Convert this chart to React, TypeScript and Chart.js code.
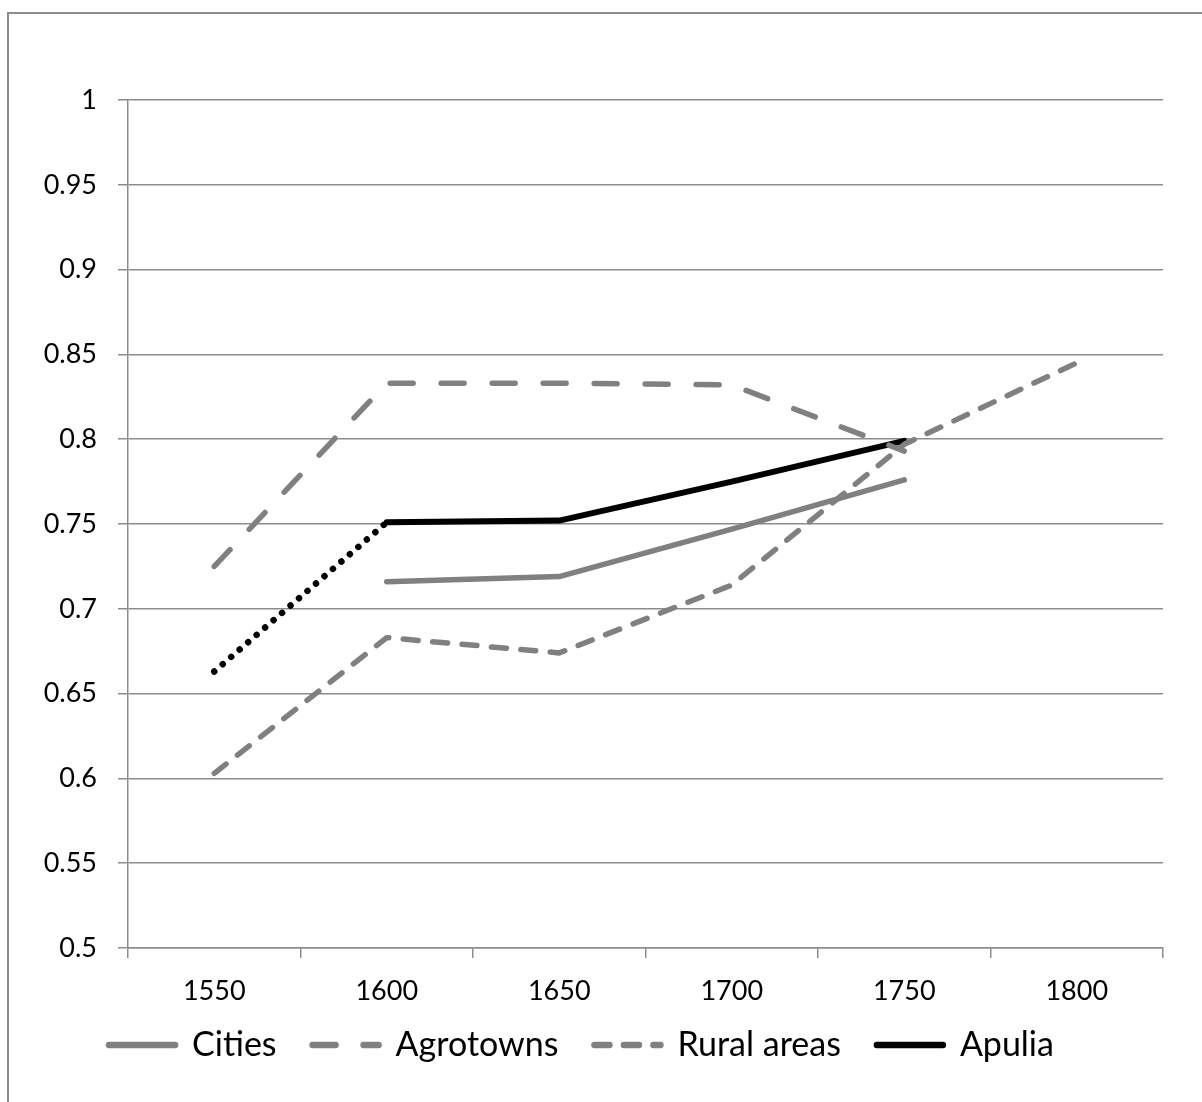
import { useEffect, useRef } from 'react';
import { Chart, registerables } from 'chart.js';

Chart.register(...registerables);

const categories = ['1550', '1600', '1650', '1700', '1750', '1800'];
const cities = [null, 0.716, 0.719, 0.747, 0.776, null];
const agrotowns = [0.725, 0.833, 0.833, 0.832, 0.793, null];
const ruralAreas = [0.603, 0.683, 0.674, 0.714, 0.797, 0.845];
const apulia = [0.663, 0.751, 0.752, 0.775, 0.799, null];
const seriesNames = ['Cities', 'Agrotowns', 'Rural areas', 'Apulia'];
const yMin = 0.5;
const yMax = 1;
const yStep = 0.05;

const GRID = '#8c8c8c';
const GRAY = '#808080';
const FONT = 'Lato';

const legendShift = {
  id: 'legendShift',
  afterLayout(chart: any) {
    const lg = chart.legend;
    if (!lg) return;
    const dy = lg.top - 992;
    lg.top -= dy;
    lg.bottom -= dy;
  },
};

export default function App() {
  const ref = useRef<HTMLCanvasElement>(null);

  useEffect(() => {
    if (!ref.current) return;
    const chart = new Chart(ref.current, {
      type: 'line',
      data: {
        labels: categories,
        datasets: [
          {
            label: seriesNames[0],
            data: cities,
            borderColor: GRAY,
            backgroundColor: GRAY,
            borderWidth: 5.5,
            borderCapStyle: 'round',
            borderJoinStyle: 'round',
            pointRadius: 0,
            fill: false,
          },
          {
            label: seriesNames[1],
            data: agrotowns,
            borderColor: GRAY,
            backgroundColor: GRAY,
            borderWidth: 5.5,
            borderDash: [23, 28],
            borderCapStyle: 'round',
            borderJoinStyle: 'round',
            pointRadius: 0,
            fill: false,
          },
          {
            label: seriesNames[2],
            data: ruralAreas,
            borderColor: GRAY,
            backgroundColor: GRAY,
            borderWidth: 5.5,
            borderDash: [15, 14.5],
            borderCapStyle: 'round',
            borderJoinStyle: 'round',
            pointRadius: 0,
            fill: false,
          },
          {
            label: seriesNames[3],
            data: apulia,
            borderColor: '#000000',
            backgroundColor: '#000000',
            borderWidth: 6,
            borderCapStyle: 'round',
            borderJoinStyle: 'round',
            pointRadius: 0,
            fill: false,
            segment: {
              borderDash: (ctx: any) => (ctx.p0DataIndex === 0 ? [0.01, 11.2] : undefined),
              borderWidth: (ctx: any) => (ctx.p0DataIndex === 0 ? 6.5 : undefined),
            },
          },
        ],
      },
      options: {
        animation: false,
        responsive: false,
        maintainAspectRatio: false,
        layout: { padding: { top: 100, left: 0, right: 39, bottom: 14 } },
        plugins: {
          tooltip: { enabled: false },
          title: { display: false },
          legend: {
            position: 'bottom',
            labels: {
              usePointStyle: true,
              pointStyle: 'line',
              pointStyleWidth: 66,
              padding: 36,
              color: '#000000',
              font: { family: FONT, size: 34 },
              generateLabels: (c: any) => {
                const items = (Chart.defaults as any).plugins.legend.labels.generateLabels(c);
                return items.map((it: any) => {
                  const ds: any = c.data.datasets[it.datasetIndex];
                  return {
                    ...it,
                    lineDash: ds.borderDash || [],
                    lineCap: 'round',
                    lineWidth: 6.5,
                    strokeStyle: ds.borderColor,
                    fillStyle: ds.borderColor,
                  };
                });
              },
            },
          },
        },
        scales: {
          x: {
            type: 'category',
            offset: true,
            grid: {
              offset: true,
              drawOnChartArea: false,
              drawTicks: true,
              tickLength: 10,
              color: GRID,
              lineWidth: 1.5,
            },
            border: { display: true, color: GRID, width: 1.5 },
            ticks: {
              color: '#000000',
              font: { family: FONT, size: 27 },
              padding: 17,
              maxRotation: 0,
              autoSkip: false,
            },
            afterFit: (s: any) => {
              s.height = 60;
            },
          },
          y: {
            min: yMin,
            max: yMax,
            grid: { color: GRID, lineWidth: 1.5, tickLength: 10, drawTicks: true },
            border: { display: true, color: GRID, width: 1.5 },
            ticks: {
              stepSize: yStep,
              color: '#000000',
              font: { family: FONT, size: 27 },
              padding: 21,
              callback: (v: any) => String(Number(Number(v).toFixed(2))),
            },
            afterFit: (s: any) => {
              s.width = 128;
            },
          },
        },
      },
      plugins: [legendShift],
    } as any);
    return () => chart.destroy();
  }, []);

  return (
    <>
      <div
        style={{
          position: 'fixed',
          left: 7,
          top: 12,
          width: 1300,
          height: 1200,
          border: '2px solid #8c8c8c',
          boxSizing: 'border-box',
        }}
      />
      <div style={{ position: 'fixed', left: 0, top: 0, width: 1202, height: 1102 }}>
        <canvas ref={ref} width={1202} height={1102} style={{ display: 'block', width: 1202, height: 1102 }} />
      </div>
    </>
  );
}
